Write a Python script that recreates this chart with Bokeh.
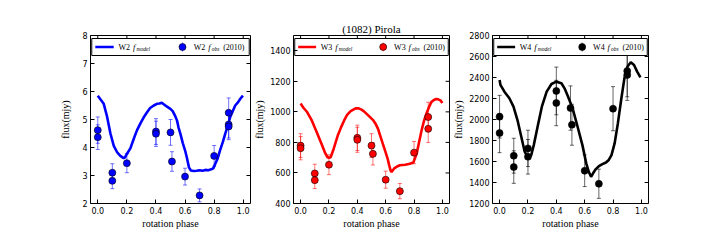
from bokeh.plotting import figure
from bokeh.models import Range1d, FixedTicker, NumeralTickFormatter, ColumnDataSource, Whisker, TeeHead
from bokeh.layouts import row
from bokeh.core.properties import value
from bokeh.embed import file_html
from bokeh.resources import INLINE

# ---------------- data ----------------
x_ticks = [0.0, 0.2, 0.4, 0.6, 0.8, 1.0]

w2_ticks = [2, 3, 4, 5, 6, 7, 8]
w3_ticks = [400, 600, 800, 1000, 1200, 1400]
w4_ticks = [1200, 1400, 1600, 1800, 2000, 2200, 2400, 2600, 2800]

w2_obs_phase = [0.0, 0.0, 0.1, 0.1, 0.2, 0.4, 0.4, 0.5, 0.51, 0.6, 0.7, 0.8, 0.9, 0.9, 0.9]
w2_obs_flux = [4.62, 4.37, 3.10, 2.81, 3.44, 4.57, 4.49, 4.54, 3.50, 2.96, 2.29, 3.70, 5.24, 4.82, 4.75]
w2_obs_err = [0.47, 0.44, 0.32, 0.28, 0.34, 0.46, 0.45, 0.46, 0.35, 0.30, 0.23, 0.37, 0.53, 0.48, 0.47]

w3_obs_phase = [0.0, 0.0, 0.1, 0.1, 0.2, 0.4, 0.4, 0.5, 0.51, 0.6, 0.7, 0.8, 0.9, 0.9]
w3_obs_flux = [779, 762, 597, 553, 654, 830, 817, 779, 725, 556, 481, 733, 966, 889]
w3_obs_err = [78, 76, 60, 55, 65, 83, 82, 78, 73, 56, 50, 73, 97, 89]

w4_obs_phase = [0.0, 0.0, 0.1, 0.1, 0.2, 0.2, 0.4, 0.4, 0.5, 0.51, 0.6, 0.7, 0.8, 0.9, 0.9]
w4_obs_flux = [2027, 1871, 1655, 1547, 1725, 1645, 2272, 2157, 2109, 1950, 1512, 1388, 2103, 2462, 2424]
w4_obs_err = [203, 187, 166, 155, 173, 165, 227, 216, 211, 195, 151, 139, 210, 246, 242]

w2_model_phase = [0.0, 0.018, 0.041, 0.064, 0.087, 0.11, 0.133, 0.155, 0.178, 0.187, 0.2, 0.224,
                  0.25, 0.27, 0.295, 0.316, 0.34, 0.36, 0.385, 0.407, 0.425, 0.44, 0.46, 0.476,
                  0.499, 0.515, 0.53, 0.545, 0.555, 0.57, 0.585, 0.6, 0.612, 0.627, 0.64, 0.66,
                  0.68, 0.70, 0.72, 0.74, 0.76, 0.78, 0.795, 0.808, 0.825, 0.84, 0.86, 0.876,
                  0.895, 0.91, 0.93, 0.945, 0.965, 0.98, 0.998]
w2_model_flux = [5.85, 5.72, 5.56, 5.10, 4.50, 4.06, 3.83, 3.70, 3.62, 3.65, 3.77, 3.97,
                 4.35, 4.62, 4.88, 5.08, 5.27, 5.41, 5.50, 5.56, 5.57, 5.60, 5.52, 5.46,
                 5.38, 5.30, 5.15, 4.96, 4.72, 4.45, 4.15, 3.90, 3.65, 3.29, 3.18, 3.16,
                 3.17, 3.19, 3.17, 3.20, 3.19, 3.22, 3.26, 3.42, 3.62, 3.89, 4.20, 4.49,
                 4.80, 5.08, 5.32, 5.50, 5.62, 5.74, 5.85]

w3_model_phase = [0.0, 0.02, 0.046, 0.079, 0.114, 0.148, 0.171, 0.189, 0.2, 0.212, 0.233, 0.262,
                  0.286, 0.307, 0.328, 0.353, 0.388, 0.41, 0.429, 0.445, 0.477, 0.513, 0.53,
                  0.546, 0.563, 0.58, 0.598, 0.614, 0.625, 0.635, 0.642, 0.66, 0.68, 0.70,
                  0.738, 0.77, 0.795, 0.818, 0.835, 0.853, 0.87, 0.887, 0.905, 0.922, 0.94,
                  0.956, 0.97, 0.986, 1.0]
w3_model_flux = [1055, 1027, 999, 944, 867, 790, 735, 703, 700, 703, 757, 845,
                 900, 944, 980, 1005, 1023, 1023, 1015, 1005, 977, 944, 920,
                 889, 840, 790, 740, 692, 650, 615, 606, 630, 642, 650,
                 654, 660, 668, 725, 800, 878, 940, 988, 1030, 1064, 1078,
                 1084, 1082, 1075, 1058]

w4_model_phase = [0.0, 0.006, 0.034, 0.069, 0.098, 0.126, 0.153, 0.177, 0.199, 0.213, 0.223,
                  0.241, 0.268, 0.298, 0.332, 0.366, 0.4, 0.436, 0.458, 0.481, 0.515, 0.55,
                  0.584, 0.611, 0.629, 0.645, 0.66, 0.68, 0.70, 0.725, 0.75, 0.77, 0.789,
                  0.811, 0.834, 0.857, 0.88, 0.902, 0.925, 0.948, 0.97, 0.993]
w4_model_flux = [2376, 2329, 2265, 2202, 2122, 1995, 1836, 1693, 1639, 1645, 1661,
                 1756, 1931, 2122, 2265, 2338, 2360, 2345, 2297, 2224, 2106, 1931,
                 1756, 1582, 1502, 1454, 1490, 1530, 1555, 1575, 1590, 1615, 1661,
                 1772, 1963, 2186, 2392, 2504, 2545, 2519, 2456, 2402]

# ---------------- layout constants ----------------
FIG_H = 232
TOP = 35
BOTTOM = 29
FRAME_H = FIG_H - TOP - BOTTOM

SERIF = "Liberation Serif"
SANS = "DejaVu Sans"


def make_panel(band, color, err_color, err_alpha, y0, y1, yticks,
               obs_x, obs_y, obs_e, mod_x, mod_y,
               width, left, right, ylab_standoff, title=None):
    p = figure(width=width, height=FIG_H,
               x_range=Range1d(-0.05, 1.05), y_range=Range1d(y0, y1),
               output_backend="svg", toolbar_location=None,
               min_border_left=left, min_border_right=right,
               min_border_top=TOP, min_border_bottom=BOTTOM)
    p.grid.visible = False
    p.outline_line_color = "black"
    p.outline_line_alpha = 1.0
    p.outline_line_width = 1
    p.background_fill_color = "white"
    p.border_fill_color = "white"

    for ax in (p.xaxis[0], p.yaxis[0]):
        ax.axis_line_color = None
        ax.major_tick_in = 4
        ax.major_tick_out = 0
        ax.major_tick_line_color = "black"
        ax.minor_tick_line_color = None
        ax.major_label_text_font = SANS
        ax.major_label_text_font_size = "8px"
        ax.major_label_text_color = "black"
        ax.axis_label_text_font = SERIF
        ax.axis_label_text_font_size = "10px"
        ax.axis_label_text_font_style = "normal"
        ax.axis_label_text_color = "black"

    p.xaxis.ticker = FixedTicker(ticks=x_ticks)
    p.xaxis.formatter = NumeralTickFormatter(format="0.0")
    p.xaxis.major_label_standoff = 3
    p.xaxis.axis_label_standoff = 1
    p.xaxis.axis_label = "rotation phase"

    p.yaxis.ticker = FixedTicker(ticks=yticks)
    p.yaxis.major_label_standoff = 3
    p.yaxis.axis_label_standoff = ylab_standoff
    p.yaxis.axis_label = "flux(mjy)"

    if title:
        p.title.text = title
        p.title.text_font = SERIF
        p.title.text_font_size = "11px"
        p.title.text_font_style = "normal"
        p.title.text_color = "black"
        p.title.align = "center"
        p.title.standoff = 2

    fw = width - left - right
    px_x = 1.1 / fw
    px_y = (y1 - y0) / FRAME_H

    # inner ticks on top and right edges (matplotlib style)
    p.segment(x_ticks, [y1] * len(x_ticks), x_ticks, [y1 - 4 * px_y] * len(x_ticks),
              line_color="black", line_width=1)
    p.segment([1.05] * len(yticks), yticks, [1.05 - 4 * px_x] * len(yticks), yticks,
              line_color="black", line_width=1)

    # observations with error bars
    src = ColumnDataSource(dict(x=obs_x, y=obs_y,
                                lo=[a - b for a, b in zip(obs_y, obs_e)],
                                hi=[a + b for a, b in zip(obs_y, obs_e)]))
    wh = Whisker(base="x", upper="hi", lower="lo", source=src, dimension="height",
                 line_color=err_color, line_alpha=err_alpha, line_width=1,
                 upper_head=TeeHead(size=4, line_color=err_color, line_alpha=err_alpha, line_width=1),
                 lower_head=TeeHead(size=4, line_color=err_color, line_alpha=err_alpha, line_width=1))
    p.add_layout(wh)

    # model curve
    p.line(mod_x, mod_y, line_color=color, line_width=2.6)

    p.scatter("x", "y", source=src, size=7, fill_color=color,
              line_color="black", line_width=0.6)

    # ---------------- legend (drawn by hand) ----------------
    def fx(f):
        return -0.05 + f * 1.1

    def fy(px_from_top):
        return y1 - px_from_top * px_y

    p.quad(left=[fx(0.008)], right=[fx(0.992)], top=[fy(3)], bottom=[fy(20)],
           fill_color="white", line_color="black", line_width=1)
    ly = fy(11.5)
    p.line([fx(0.03), fx(0.145)], [ly, ly], line_color=color, line_width=2.6)
    mx = fx(0.575)
    p.segment([mx], [ly - 4.5 * px_y], [mx], [ly + 4.5 * px_y],
              line_color=err_color, line_alpha=err_alpha, line_width=1)
    p.scatter([mx], [ly], size=7, fill_color=color, line_color="black", line_width=0.6)

    def txt(xs, off, s, size="8px", style="normal", dy=0):
        p.text(x=[xs], y=[ly], text=[s], x_offset=off, y_offset=dy,
               text_font=value(SERIF), text_font_size=size, text_font_style=style,
               text_baseline="middle", text_align="left", text_color="black")

    t1 = fx(0.175)
    txt(t1, 0, band)
    txt(t1, 14.5, "f", size="8.5px", style="italic")
    txt(t1, 18, "model", size="5.5px", style="italic", dy=1.5)

    t2 = fx(0.645)
    txt(t2, 0, band)
    txt(t2, 14.5, "f", size="8.5px", style="italic")
    txt(t2, 18, "obs", size="5.5px", style="italic", dy=1.5)
    txt(t2, 29.5, "(2010)")
    return p


p1 = make_panel("W2", "#0000ff", "#0000ff", 0.55, 2, 8, w2_ticks,
                w2_obs_phase, w2_obs_flux, w2_obs_err, w2_model_phase, w2_model_flux,
                width=251, left=90, right=1, ylab_standoff=8)
p2 = make_panel("W3", "#ff0000", "#ff0000", 0.55, 400, 1500, w3_ticks,
                w3_obs_phase, w3_obs_flux, w3_obs_err, w3_model_phase, w3_model_flux,
                width=199, left=37, right=1, ylab_standoff=2, title="(1082) Pirola")
p3 = make_panel("W4", "#000000", "#000000", 0.6, 1200, 2800, w4_ticks,
                w4_obs_phase, w4_obs_flux, w4_obs_err, w4_model_phase, w4_model_flux,
                width=202, left=37, right=4, ylab_standoff=2)

layout = row(p1, p2, p3, spacing=0)

open("out.html", "w").write(file_html(layout, INLINE))
